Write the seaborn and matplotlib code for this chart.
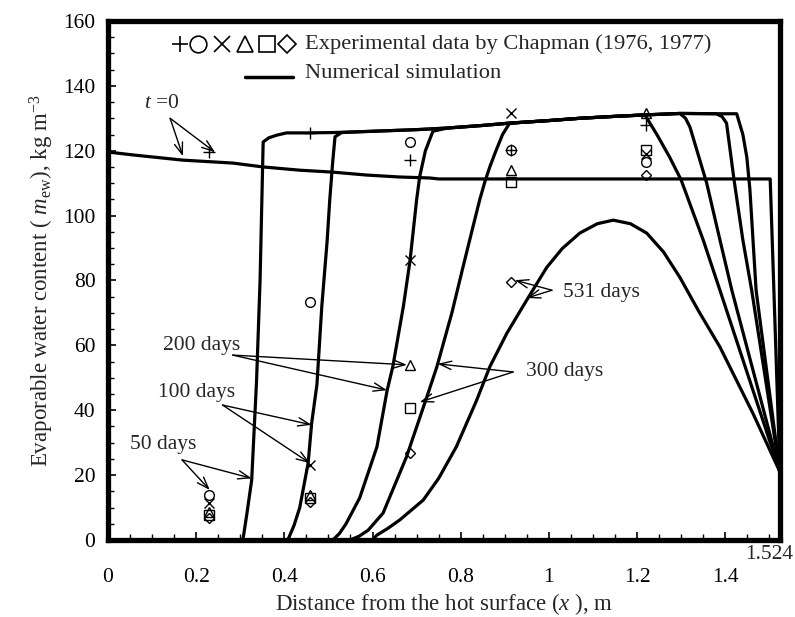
import matplotlib
matplotlib.use("Agg")
import matplotlib.pyplot as plt
import seaborn as sns
import pandas as pd

# ---------------- data ----------------
t0_x = [0.0, 0.057, 0.17, 0.283, 0.352, 0.435, 0.51, 0.587, 0.662, 0.73, 0.75, 1.0, 1.3, 1.502, 1.524]
t0_y = [119.6, 118.7, 117.1, 116.2, 115.0, 114.0, 113.4, 112.5, 111.9, 111.6, 111.3, 111.3, 111.3, 111.3, 21.0]

d50_x = [0.0, 0.306, 0.315, 0.326, 0.337, 0.345, 0.352, 0.365, 0.383, 0.405, 0.45, 0.51, 0.6, 0.7, 0.77,
         0.85, 0.91, 1.0, 1.07, 1.15, 1.21, 1.30, 1.38, 1.426, 1.44, 1.449, 1.456, 1.463, 1.47, 1.524]
d50_y = [0.0, 0.0, 8.0, 18.5, 49.0, 80.0, 122.7, 124.0, 124.8, 125.5, 125.5, 125.6, 126.0, 126.5, 127.0,
         127.8, 128.5, 129.3, 130.0, 130.6, 131.0, 131.5, 131.4, 131.4, 125.0, 118.0, 108.0, 92.5, 77.0, 21.0]

d100_x = [0.0, 0.408, 0.422, 0.435, 0.454, 0.462, 0.474, 0.485, 0.497, 0.503, 0.51, 0.515, 0.53, 0.6, 0.7, 0.77,
          0.85, 0.91, 1.0, 1.07, 1.15, 1.21, 1.30, 1.38, 1.393, 1.403, 1.42, 1.44, 1.46, 1.524]
d100_y = [0.0, 0.0, 4.5, 10.0, 23.7, 36.0, 48.0, 72.0, 92.0, 104.8, 117.0, 124.3, 125.6, 126.0, 126.5, 127.0,
          127.8, 128.5, 129.3, 130.0, 130.6, 131.0, 131.5, 131.4, 130.5, 128.5, 111.0, 92.5, 77.0, 21.0]

d200_x = [0.0, 0.51, 0.525, 0.54, 0.571, 0.61, 0.633, 0.646, 0.67, 0.685, 0.70, 0.707, 0.72, 0.737, 0.77,
          0.85, 0.91, 1.0, 1.07, 1.15, 1.21, 1.297, 1.31, 1.32, 1.358, 1.388, 1.415, 1.524]
d200_y = [0.0, 0.0, 2.0, 5.0, 13.0, 28.7, 46.0, 53.4, 72.0, 86.0, 104.8, 112.0, 120.0, 126.0, 127.0,
          127.8, 128.5, 129.3, 130.0, 130.6, 131.0, 131.5, 130.0, 127.3, 110.0, 92.5, 77.0, 21.0]

d300_x = [0.0, 0.549, 0.57, 0.59, 0.624, 0.677, 0.723, 0.746, 0.78, 0.805, 0.825, 0.843, 0.855, 0.866, 0.88,
          0.895, 0.911, 1.0, 1.07, 1.15, 1.218, 1.245, 1.274, 1.30, 1.35, 1.388, 1.524]
d300_y = [0.0, 0.0, 1.2, 3.0, 8.3, 25.6, 44.0, 53.4, 70.0, 84.0, 95.0, 104.8, 110.5, 115.0, 120.0,
          125.0, 128.5, 129.3, 130.0, 130.6, 131.0, 125.0, 118.0, 111.0, 92.5, 77.0, 21.0]

d531_x = [0.0, 0.60, 0.61, 0.635, 0.662, 0.715, 0.75, 0.79, 0.836, 0.866, 0.905, 0.95, 0.995, 1.03, 1.07,
          1.11, 1.146, 1.185, 1.222, 1.26, 1.297, 1.34, 1.388, 1.463, 1.524]
d531_y = [0.0, 0.0, 1.5, 3.6, 6.2, 12.3, 19.0, 28.7, 43.0, 53.4, 63.8, 74.0, 84.0, 89.8, 94.6,
          97.5, 98.6, 97.5, 94.6, 88.8, 81.0, 70.5, 59.5, 39.0, 21.0]

# experimental data (Chapman)
exp_x = [0.2286, 0.4572, 0.6858, 0.9144, 1.2192]
exp_t0 = [119.6, 125.5, 117.0, 120.2, 128.0]      # +
exp_50 = [13.9, 73.4, 122.7, 120.2, 116.5]       # o
exp_100 = [11.4, 23.1, 86.3, 131.6, 119.0]       # x
exp_200 = [8.6, 13.9, 54.0, 114.0, 131.6]        # triangle
exp_300 = [7.7, 12.9, 40.7, 110.4, 120.2]        # square
exp_531 = [6.8, 11.7, 26.8, 79.6, 112.5]         # diamond

x_ticks = [0, 0.2, 0.4, 0.6, 0.8, 1.0, 1.2, 1.4]
x_ticklabels = ["0", "0.2", "0.4", "0.6", "0.8", "1", "1.2", "1.4"]
y_ticks = [0, 20, 40, 60, 80, 100, 120, 140, 160]

# ---------------- style ----------------
sns.set_theme(style="white")
plt.rcParams["font.family"] = ["Liberation Serif", "DejaVu Serif"]
plt.rcParams["mathtext.fontset"] = "custom"
plt.rcParams["mathtext.rm"] = "Liberation Serif"
plt.rcParams["mathtext.it"] = "Liberation Serif:italic"

fig = plt.figure(figsize=(7.95, 6.17), dpi=100)
ax = fig.add_axes([0.1358, 0.1248, 0.8452, 0.8412])

curves = [("t=0", t0_x, t0_y), ("50", d50_x, d50_y), ("100", d100_x, d100_y),
          ("200", d200_x, d200_y), ("300", d300_x, d300_y), ("531", d531_x, d531_y)]
rows = []
for name, xs, ys in curves:
    for i, (xv, yv) in enumerate(zip(xs, ys)):
        rows.append({"curve": name, "order": i, "x": xv, "y": yv})
df = pd.DataFrame(rows)
for name, _, _ in curves:
    sub = df[df["curve"] == name]
    sns.lineplot(data=sub, x="x", y="y", sort=False, estimator=None, color="black",
                 linewidth=2.3, ax=ax, legend=False, clip_on=False, zorder=3)

marker_specs = [("+", exp_t0, 9), ("o", exp_50, 7), ("x", exp_100, 7),
                ("^", exp_200, 7), ("s", exp_300, 7), ("D", exp_531, 5.5)]
for m, ys, ms in marker_specs:
    ax.plot(exp_x, ys, linestyle="none", marker=m, markersize=ms, markerfacecolor="none",
            markeredgecolor="black", markeredgewidth=1.0, zorder=4, clip_on=False)

ax.set_xlim(0, 1.524)
ax.set_ylim(0, 160)
ax.set_xticks(x_ticks)
ax.set_xticklabels(x_ticklabels)
ax.set_yticks(y_ticks)
ax.set_xticks([i * 0.05 for i in range(31)], minor=True)
ax.set_yticks(list(range(0, 161, 5)), minor=True)
ax.tick_params(axis="both", which="both", direction="in", colors="black",
               bottom=True, left=True, top=False, right=False, labelsize=15.5)
ax.tick_params(axis="both", which="major", length=6, width=1.2)
ax.tick_params(axis="both", which="minor", length=4, width=1.0)
ax.tick_params(axis="x", which="major", pad=20)
ax.tick_params(axis="y", which="major", pad=9)
for s in ax.spines.values():
    s.set_visible(True)
    s.set_color("black")
    s.set_linewidth(3.8)
    s.set_zorder(5)

ax.set_xlabel(r"Distance from the hot surface ($x$ ), m", fontsize=16.5, labelpad=3)
ax.set_ylabel(r"Evaporable water content ( $m_{\rm ew}$), kg m$^{-3}$", fontsize=16.5, labelpad=5)

ax.text(1.50, -4.6, "1.524", fontsize=15.5, ha="center", va="center", clip_on=False)

# legend (manual)
lx = [0.107, 0.134, 0.170, 0.204, 0.236, 0.266]
for (m, _, _), xx in zip(marker_specs, lx):
    ax.plot([xx], [0.956], transform=ax.transAxes, marker=m, linestyle="none",
            markersize=12 if m != "D" else 9, markerfacecolor="none",
            markeredgecolor="black", markeredgewidth=1.2, clip_on=False)
ax.text(0.293, 0.956, "Experimental data by Chapman (1976, 1977)", transform=ax.transAxes,
        fontsize=16.2, ha="left", va="center")
ax.plot([0.204, 0.275], [0.893, 0.893], transform=ax.transAxes, color="black", lw=2.5)
ax.text(0.293, 0.898, "Numerical simulation", transform=ax.transAxes,
        fontsize=16.2, ha="left", va="center")

# annotations
aprops = dict(arrowstyle="->,head_length=0.7,head_width=0.25", color="black", lw=1.0,
              shrinkA=0, shrinkB=0)
labels = [
    (r"$t$ =0", (0.123, 134.7), (0.141, 130.0), [(0.17, 118.3), (0.243, 119.5)]),
    ("50 days", (0.125, 29.3), (0.168, 24.7), [(0.326, 19.0), (0.231, 15.4)]),
    ("100 days", (0.20, 45.6), (0.26, 41.6), [(0.462, 35.5), (0.458, 23.7)]),
    ("200 days", (0.213, 60.1), (0.283, 57.0), [(0.678, 54.0), (0.633, 46.2)]),
    ("300 days", (1.036, 51.8), (0.919, 51.8), [(0.748, 54.3), (0.707, 42.5)]),
    ("531 days", (1.12, 76.4), (1.007, 77.0), [(0.923, 80.1), (0.95, 74.6)]),
]
for txt, pos, tail, heads in labels:
    ax.text(pos[0], pos[1], txt, fontsize=15.5, ha="center", va="center")
    for h in heads:
        ax.annotate("", xy=h, xytext=tail, arrowprops=aprops)

fig.savefig("out.png", dpi=100)
